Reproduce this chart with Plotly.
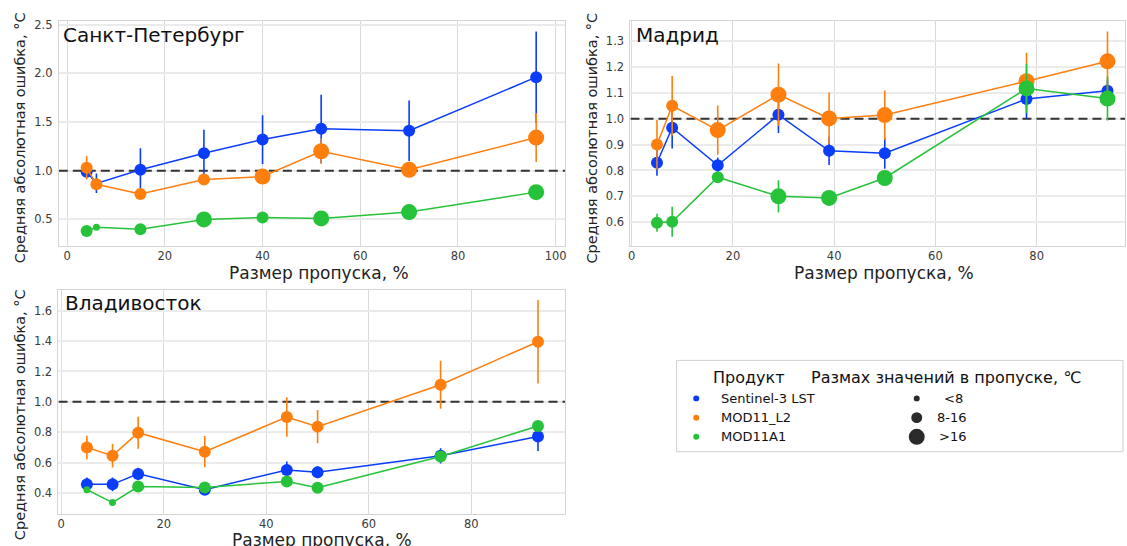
import plotly.graph_objects as go

W, H = 1127, 546

# Products and styling
PRODUCTS = ["Sentinel-3 LST", "MOD11_L2", "MOD11A1"]
COLORS = ["#0a3dfa", "#ff7f0e", "#26c23a"]
SIZE_LABELS = ["<8", "8-16", ">16"]
SIZE_PX = [7, 12, 16]          # marker diameter per range class
LEGEND_SIZE_PX = [6, 11, 16]

# ---------------- Санкт-Петербург ----------------
spb_gap = [4, 6, 15, 28, 40, 52, 70, 96]
spb_s3_mae = [0.99, 0.87, 1.01, 1.18, 1.32, 1.43, 1.41, 1.96]
spb_s3_err = [0.06, 0.10, 0.22, 0.24, 0.25, 0.35, 0.31, 0.47]
spb_s3_cls = [1, 0, 1, 1, 1, 1, 1, 1]
spb_l2_mae = [1.03, 0.86, 0.76, 0.91, 0.94, 1.20, 1.01, 1.34]
spb_l2_err = [0.12, 0.05, 0.04, 0.04, 0.05, 0.13, 0.05, 0.25]
spb_l2_cls = [1, 1, 1, 1, 2, 2, 2, 2]
spb_a1_mae = [0.38, 0.42, 0.40, 0.50, 0.52, 0.51, 0.575, 0.78]
spb_a1_err = [0.02, 0.01, 0.02, 0.02, 0.02, 0.02, 0.02, 0.02]
spb_a1_cls = [1, 0, 1, 2, 1, 2, 2, 2]

# ---------------- Мадрид ----------------
mad_gap = [5, 8, 17, 29, 39, 50, 78, 94]
mad_s3_mae = [0.83, 0.965, 0.82, 1.015, 0.876, 0.867, 1.076, 1.108]
mad_s3_err = [0.05, 0.08, 0.03, 0.07, 0.055, 0.06, 0.075, 0.04]
mad_s3_cls = [1, 1, 1, 1, 1, 1, 1, 1]
mad_l2_mae = [0.90, 1.05, 0.956, 1.093, 1.001, 1.014, 1.145, 1.222]
mad_l2_err = [0.095, 0.115, 0.095, 0.12, 0.10, 0.095, 0.11, 0.115]
mad_l2_cls = [1, 1, 2, 2, 2, 2, 2, 2]
mad_a1_mae = [0.598, 0.602, 0.774, 0.700, 0.694, 0.771, 1.117, 1.078]
mad_a1_err = [0.035, 0.058, 0.01, 0.062, 0.01, 0.01, 0.095, 0.085]
mad_a1_cls = [1, 1, 1, 2, 2, 2, 2, 2]

# ---------------- Владивосток ----------------
vla_gap = [5, 10, 15, 28, 44, 50, 74, 93]
vla_s3_mae = [0.457, 0.457, 0.526, 0.422, 0.552, 0.537, 0.645, 0.772]
vla_s3_err = [0.045, 0.045, 0.04, 0.03, 0.055, 0.04, 0.05, 0.095]
vla_s3_cls = [1, 1, 1, 1, 1, 1, 1, 1]
vla_l2_mae = [0.70, 0.646, 0.797, 0.672, 0.90, 0.837, 1.113, 1.396]
vla_l2_err = [0.077, 0.078, 0.105, 0.103, 0.13, 0.11, 0.158, 0.275]
vla_l2_cls = [1, 1, 1, 1, 1, 1, 1, 1]
vla_a1_mae = [0.422, 0.337, 0.443, 0.437, 0.476, 0.435, 0.641, 0.841]
vla_a1_err = [0.01, 0.01, 0.02, 0.02, 0.02, 0.02, 0.03, 0.03]
vla_a1_cls = [0, 0, 1, 1, 1, 1, 1, 1]

CITIES = ["Санкт-Петербург", "Мадрид", "Владивосток"]
X_TITLE = "Размер пропуска, %"
Y_TITLE = "Средняя абсолютная ошибка, °C"
REFERENCE_MAE = 1.0   # 1 °C reference level

panels = [
    (spb_gap, [(spb_s3_mae, spb_s3_err, spb_s3_cls),
               (spb_l2_mae, spb_l2_err, spb_l2_cls),
               (spb_a1_mae, spb_a1_err, spb_a1_cls)]),
    (mad_gap, [(mad_s3_mae, mad_s3_err, mad_s3_cls),
               (mad_l2_mae, mad_l2_err, mad_l2_cls),
               (mad_a1_mae, mad_a1_err, mad_a1_cls)]),
    (vla_gap, [(vla_s3_mae, vla_s3_err, vla_s3_cls),
               (vla_l2_mae, vla_l2_err, vla_l2_cls),
               (vla_a1_mae, vla_a1_err, vla_a1_cls)]),
]


def fx(px):
    return px / W


def fy(py):
    return 1 - py / H


FONT = "DejaVu Sans"

# panel geometry in pixels: left, right, top, bottom
geom = [
    (57, 565, 17.3, 243.3),
    (630.7, 1127, 17.3, 243.3),
    (56.7, 565, 288.3, 513.3),
]
xranges = [[-1.7, 101.9], [-0.24, 97.46], [-0.54, 98.27]]
yranges = [[0.232, 2.535], [0.510, 1.377], [0.265, 1.735]]
ydticks = [0.5, 0.1, 0.2]

fig = go.Figure()

for i, (gap, series) in enumerate(panels):
    xa = "x" if i == 0 else f"x{i + 1}"
    ya = "y" if i == 0 else f"y{i + 1}"
    # dashed 1 °C reference line across the whole panel, under the data
    fig.add_trace(go.Scatter(
        x=xranges[i], y=[REFERENCE_MAE, REFERENCE_MAE], xaxis=xa, yaxis=ya,
        mode="lines", line=dict(color="#333333", width=2, dash="9px,5px"),
        showlegend=False, hoverinfo="skip", cliponaxis=True,
    ))
    for (mae, err, cls), color, name in zip(series, COLORS, PRODUCTS):
        fig.add_trace(go.Scatter(
            x=gap, y=mae, xaxis=xa, yaxis=ya, name=name,
            mode="lines+markers",
            line=dict(color=color, width=1.5),
            marker=dict(color=color, size=[SIZE_PX[c] for c in cls],
                        line=dict(width=0), opacity=1),
            error_y=dict(type="data", array=err, visible=True,
                         color=color, thickness=1.6, width=0),
            showlegend=False, hoverinfo="x+y",
        ))

axis_common = dict(
    showline=True, mirror=True, linecolor="#d4d4d4", linewidth=1,
    showgrid=True, zeroline=False, ticks="",
    tickfont=dict(family=FONT, size=11.5, color="#3a3a3a"),
)

layout = dict(
    width=W, height=H,
    margin=dict(l=0, r=0, t=0, b=0),
    paper_bgcolor="white", plot_bgcolor="white",
    font=dict(family=FONT, color="#222"),
    showlegend=False,
)

shapes = []
annotations = []

for i in range(3):
    l, r, t, b = geom[i]
    xk = "xaxis" if i == 0 else f"xaxis{i + 1}"
    yk = "yaxis" if i == 0 else f"yaxis{i + 1}"
    xa = "x" if i == 0 else f"x{i + 1}"
    ya = "y" if i == 0 else f"y{i + 1}"
    layout[xk] = dict(axis_common, domain=[fx(l), min(fx(r), 1.0)],
                      anchor=ya, range=xranges[i], dtick=20, tick0=0,
                      gridcolor="#dadada", gridwidth=1)
    layout[yk] = dict(axis_common, domain=[fy(b), fy(t)], anchor=xa,
                      range=yranges[i], dtick=ydticks[i], tick0=0,
                      tickformat=".1f", gridcolor="#ebebeb", gridwidth=1.5,
                      ticklabelstandoff=3)

# city names inside panels
city_pos = [(59.3, 31.5), (634.3, 31.5), (61, 301)]
for name, (px, py) in zip(CITIES, city_pos):
    annotations.append(dict(text=name, x=fx(px), y=fy(py), xref="paper",
                            yref="paper", xanchor="left", yanchor="middle",
                            showarrow=False,
                            font=dict(family=FONT, size=20, color="#111")))

# axis titles
xt_pos = [(318.3, 270.5), (885, 270.5), (321.5, 540)]
for px, py in xt_pos:
    annotations.append(dict(text=X_TITLE, x=fx(px), y=fy(py), xref="paper",
                            yref="paper", xanchor="center", yanchor="middle",
                            showarrow=False, borderpad=0,
                            font=dict(family=FONT, size=17, color="#222")))
yt_pos = [(18.3, 135), (591.7, 135), (18.3, 414)]
for px, py in yt_pos:
    annotations.append(dict(text=Y_TITLE, x=fx(px), y=fy(py), xref="paper",
                            yref="paper", xanchor="center", yanchor="middle",
                            textangle=-90, showarrow=False,
                            font=dict(family=FONT, size=14.5, color="#222")))

# legend panel
shapes.append(dict(type="rect", xref="paper", yref="paper",
                   x0=fx(677), x1=fx(1125), y0=fy(451), y1=fy(359),
                   line=dict(color="#cfcfcf", width=1), fillcolor="white",
                   layer="below"))
annotations.append(dict(text="Продукт", x=fx(712), y=fy(376), xref="paper",
                        yref="paper", xanchor="left", yanchor="middle",
                        showarrow=False,
                        font=dict(family=FONT, size=16, color="#111")))
annotations.append(dict(text="Размах значений в пропуске, ℃", x=fx(810),
                        y=fy(376), xref="paper", yref="paper",
                        xanchor="left", yanchor="middle", showarrow=False,
                        font=dict(family=FONT, size=16, color="#111")))


def dot(cx, cy, d, color):
    r = d / 2
    return dict(type="circle", xref="paper", yref="paper",
                x0=fx(cx - r), x1=fx(cx + r), y0=fy(cy + r), y1=fy(cy - r),
                fillcolor=color, line=dict(width=0), layer="above")


row_y = [397.3, 416.7, 436]
for name, color, py in zip(PRODUCTS, COLORS, row_y):
    shapes.append(dot(696.7, py, 6, color))
    annotations.append(dict(text=name, x=fx(719.5), y=fy(py), xref="paper",
                            yref="paper", xanchor="left", yanchor="middle",
                            showarrow=False,
                            font=dict(family=FONT, size=13, color="#111")))

size_label_x = [943, 936.7, 938]
for lab, d, py, lx in zip(SIZE_LABELS, LEGEND_SIZE_PX, row_y, size_label_x):
    shapes.append(dot(918, py, d, "#2a2a2a"))
    annotations.append(dict(text=lab, x=fx(lx), y=fy(py), xref="paper",
                            yref="paper", xanchor="left", yanchor="middle",
                            showarrow=False,
                            font=dict(family=FONT, size=13, color="#111")))

layout["shapes"] = shapes
layout["annotations"] = annotations
fig.update_layout(**layout)

fig.write_html("out.html", include_plotlyjs=True,
               config={"displayModeBar": False})
